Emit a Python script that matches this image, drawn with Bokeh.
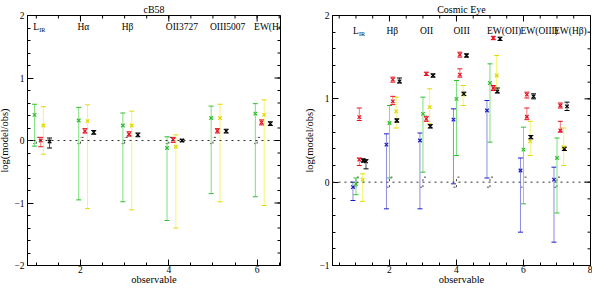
import numpy as np
from bokeh.plotting import figure
from bokeh.models import (ColumnDataSource, Whisker, TeeHead, Label,
                          SingleIntervalTicker, Span, Range1d)
from bokeh.layouts import row
from bokeh.embed import file_html
from bokeh.resources import INLINE

# ---------------- data: cB58 ----------------
cb58_labels = ["L_IR", "Hα", "Hβ", "OII3727", "OIII5007", "EW(Hα)"]
cb58_green = [0.41, 0.32, 0.24, -0.12, 0.36, 0.43]
cb58_green_hi = [0.58, 0.53, 0.44, 0.06, 0.55, 0.59]
cb58_green_lo = [-0.09, -0.95, -0.98, -1.28, -0.85, -0.90]
cb58_yellow = [0.24, 0.31, 0.24, -0.10, 0.36, 0.41]
cb58_yellow_hi = [0.54, 0.57, 0.47, 0.09, 0.58, 0.65]
cb58_yellow_lo = [-0.22, -1.09, -1.11, -1.40, -0.98, -1.04]
cb58_red = [0.00, 0.15, 0.10, 0.015, 0.155, 0.29]
cb58_red_hi = [0.05, 0.19, 0.14, 0.05, 0.19, 0.33]
cb58_red_lo = [-0.10, 0.12, 0.07, -0.03, 0.12, 0.25]
cb58_black = [-0.015, 0.13, 0.09, 0.0, 0.15, 0.27]
cb58_black_hi = [0.04, 0.16, 0.12, 0.02, 0.18, 0.30]
cb58_black_lo = [-0.12, 0.10, 0.06, -0.02, 0.12, 0.24]
cb58_obs_err = 0.05

# ---------------- data: Cosmic Eye ----------------
ce_labels = ["L_IR", "Hβ", "OII", "OIII", "EW(OII)", "EW(OIII)", "EW(Hβ)"]
ce_blue = [-0.06, 0.45, 0.50, 0.75, 0.86, 0.14, 0.03]
ce_blue_hi = [0.0, 0.58, 0.59, 0.88, 0.98, 0.29, 0.18]
ce_blue_lo = [-0.22, -0.32, -0.32, -0.02, 0.05, -0.60, -0.72]
ce_green = [-0.02, 0.71, 0.82, 1.00, 1.19, 0.39, 0.29]
ce_green_hi = [0.05, 0.92, 1.02, 1.22, 1.42, 0.66, 0.53]
ce_green_lo = [-0.15, 0.05, 0.12, 0.32, 0.48, -0.26, -0.37]
ce_red1 = [0.27, 0.97, 0.76, 1.29, 1.13, 0.785, 0.62]
ce_red1_hi = [0.29, 1.03, 0.79, 1.36, 1.16, 0.89, 0.73]
ce_red1_lo = [0.20, 0.93, 0.73, 1.26, 1.10, 0.75, 0.60]
ce_red2 = [0.78, 1.23, 1.30, 1.53, 1.73, 1.05, 0.92]
ce_red2_hi = [0.89, 1.26, 1.32, 1.56, 1.75, 1.08, 0.95]
ce_red2_lo = [0.74, 1.20, 1.28, 1.50, 1.71, 1.01, 0.89]
ce_yellow = [0.03, 0.85, 0.90, 1.05, 1.28, 0.49, 0.42]
ce_yellow_hi = [0.10, 1.02, 1.12, 1.16, 1.52, 0.73, 0.65]
ce_yellow_lo = [-0.23, 0.65, 0.70, 0.92, 1.10, 0.32, 0.20]
ce_black1 = [0.26, 0.74, 0.67, 1.06, 1.09, 0.54, 0.40]
ce_black1_hi = [0.28, 0.76, 0.69, 1.08, 1.13, 0.56, 0.42]
ce_black1_lo = [0.24, 0.72, 0.65, 1.04, 1.07, 0.52, 0.38]
ce_black2 = [0.25, 1.21, 1.28, 1.52, 1.72, 1.03, 0.91]
ce_black2_hi = [0.27, 1.25, 1.30, 1.54, 1.74, 1.06, 0.96]
ce_black2_lo = [0.16, 1.19, 1.26, 1.50, 1.70, 1.00, 0.86]
ce_obs_err = 0.06

FONT = "Liberation Serif"

STYLES = {
    "blue": ("#8c8ce6", "#1a1acc"),
    "green": ("#7ee07e", "#2fbf2f"),
    "yellow": ("#f6f66a", "#e0d800"),
    "red": ("#f07a7a", "#e81020"),
    "black": ("#555555", "#000000"),
}


def add_series(p, xs, v, hi, lo, color):
    line_c, mark_c = STYLES[color]
    src = ColumnDataSource(dict(x=xs, y=v, hi=hi, lo=lo))
    w = Whisker(base="x", upper="hi", lower="lo", source=src, dimension="height",
                line_color=line_c, line_width=1,
                upper_head=TeeHead(size=5, line_color=mark_c, line_width=1),
                lower_head=TeeHead(size=5, line_color=mark_c, line_width=1))
    p.add_layout(w)
    p.scatter("x", "y", source=src, marker="x", size=5, line_color=mark_c, line_width=1.2)


def add_obs(p, n, err):
    xs = np.arange(1, n + 1, dtype=float)
    src = ColumnDataSource(dict(x=xs, hi=np.full(n, err), lo=np.full(n, -err)))
    w = Whisker(base="x", upper="hi", lower="lo", source=src, dimension="height",
                line_color="#444444", line_dash="dotted", line_width=1,
                upper_head=TeeHead(size=6, line_color="#444444", line_dash="dotted"),
                lower_head=TeeHead(size=6, line_color="#444444", line_dash="dotted"))
    p.add_layout(w)


def style_axis(ax):
    ax.major_tick_in = 6
    ax.major_tick_out = 0
    ax.minor_tick_in = 3
    ax.minor_tick_out = 0
    ax.axis_line_color = "black"
    ax.major_tick_line_color = "black"
    ax.minor_tick_line_color = "black"
    ax.major_label_text_font = FONT
    ax.major_label_text_color = "black"
    ax.major_label_text_font_size = "9.5px"
    ax.axis_label_text_font = FONT
    ax.axis_label_text_font_style = "normal"
    ax.axis_label_text_color = "black"
    ax.axis_label_text_font_size = "10.5px"


def mirror_ticks(p, xr, yr):
    # inward tick marks on the top and right frame edges (half of each dash is clipped)
    ymaj = np.arange(np.ceil(yr[0]), yr[1] + 1e-9, 1.0)
    ymin = np.arange(np.ceil(yr[0] * 5) / 5, yr[1] + 1e-9, 0.2)
    xmaj = np.arange(np.ceil(xr[0] / 2) * 2, xr[1] + 1e-9, 2.0)
    xmin = np.arange(np.ceil(xr[0] * 2) / 2, xr[1] + 1e-9, 0.5)
    p.scatter(np.full(len(ymin), xr[1]), ymin, marker="dash", size=6, line_color="black", line_width=1)
    p.scatter(np.full(len(ymaj), xr[1]), ymaj, marker="dash", size=12, line_color="black", line_width=1)
    p.scatter(xmin, np.full(len(xmin), yr[1]), marker="dash", angle=np.pi / 2, size=6,
              line_color="black", line_width=1)
    p.scatter(xmaj, np.full(len(xmaj), yr[1]), marker="dash", angle=np.pi / 2, size=12,
              line_color="black", line_width=1)


def make_panel(title, labels, xr, yr, width, bl, br):
    p = figure(width=width, height=287, x_range=Range1d(*xr), y_range=Range1d(*yr),
               output_backend="svg", toolbar_location=None,
               min_border_left=bl, min_border_right=br, min_border_top=0,
               min_border_bottom=0, x_axis_label="observable",
               y_axis_label="log(model/obs)")
    p.title.text = title
    p.title.align = "center"
    p.title.text_font = FONT
    p.title.text_font_style = "normal"
    p.title.text_font_size = "10px"
    p.title.text_color = "black"
    p.title.standoff = 2
    p.title.offset = 0
    p.grid.visible = False
    p.outline_line_color = "black"
    p.background_fill_color = "white"
    p.border_fill_color = "white"

    p.xaxis.ticker = SingleIntervalTicker(interval=2, num_minor_ticks=4)
    p.yaxis.ticker = SingleIntervalTicker(interval=1, num_minor_ticks=5)
    style_axis(p.xaxis[0])
    style_axis(p.yaxis[0])
    p.xaxis[0].major_label_standoff = 0
    p.xaxis[0].axis_label_standoff = -2
    p.yaxis[0].major_label_standoff = 3
    p.yaxis[0].axis_label_standoff = 1
    mirror_ticks(p, xr, yr)

    p.add_layout(Span(location=0, dimension="width", line_color="#333333",
                      line_dash="dotted", line_width=1))

    n = len(labels)
    xs = np.arange(1, n + 1, dtype=float)
    for xi, lab in zip(xs, labels):
        parts = lab.split("_")
        p.add_layout(Label(x=xi, y=1.82, text=parts[0], x_offset=-3,
                           text_font=FONT, text_font_size="9.5px", text_align="left",
                           text_baseline="middle", text_color="black"))
        if len(parts) > 1:
            p.add_layout(Label(x=xi, y=1.82, text=parts[1], x_offset=3, y_offset=-3,
                               text_font=FONT, text_font_size="6px", text_align="left",
                               text_baseline="middle", text_color="black"))
    return p, xs


# ---------- left panel ----------
pl, xl = make_panel("cB58", cb58_labels, (0.8, 6.53), (-2, 2), 300, 35, 12)
add_obs(pl, len(cb58_labels), cb58_obs_err)
add_series(pl, xl - 0.04, cb58_green, cb58_green_hi, cb58_green_lo, "green")
add_series(pl, xl + 0.16, cb58_yellow, cb58_yellow_hi, cb58_yellow_lo, "yellow")
add_series(pl, xl + 0.10, cb58_red, cb58_red_hi, cb58_red_lo, "red")
add_series(pl, xl + 0.30, cb58_black, cb58_black_hi, cb58_black_lo, "black")

# ---------- right panel ----------
pr, xr_ = make_panel("Cosmic Eye", ce_labels, (0.3, 8.0), (-1, 2), 300, 40, 2)
add_obs(pr, len(ce_labels), ce_obs_err)
add_series(pr, xr_ - 0.09, ce_blue, ce_blue_hi, ce_blue_lo, "blue")
add_series(pr, xr_ + 0.0, ce_green, ce_green_hi, ce_green_lo, "green")
add_series(pr, xr_ + 0.20, ce_yellow, ce_yellow_hi, ce_yellow_lo, "yellow")
add_series(pr, xr_ + 0.10, ce_red1, ce_red1_hi, ce_red1_lo, "red")
add_series(pr, xr_ + 0.10, ce_red2, ce_red2_hi, ce_red2_lo, "red")
add_series(pr, xr_ + 0.22, ce_black1, ce_black1_hi, ce_black1_lo, "black")
add_series(pr, xr_ + 0.30, ce_black2, ce_black2_hi, ce_black2_lo, "black")

# use the page's side and bottom margins so the layout spans the window like the original
layout = row(pl, pr, spacing=0, styles={"margin": "0px -8px -8px -8px"})
open("out.html", "w").write(file_html(layout, INLINE))
